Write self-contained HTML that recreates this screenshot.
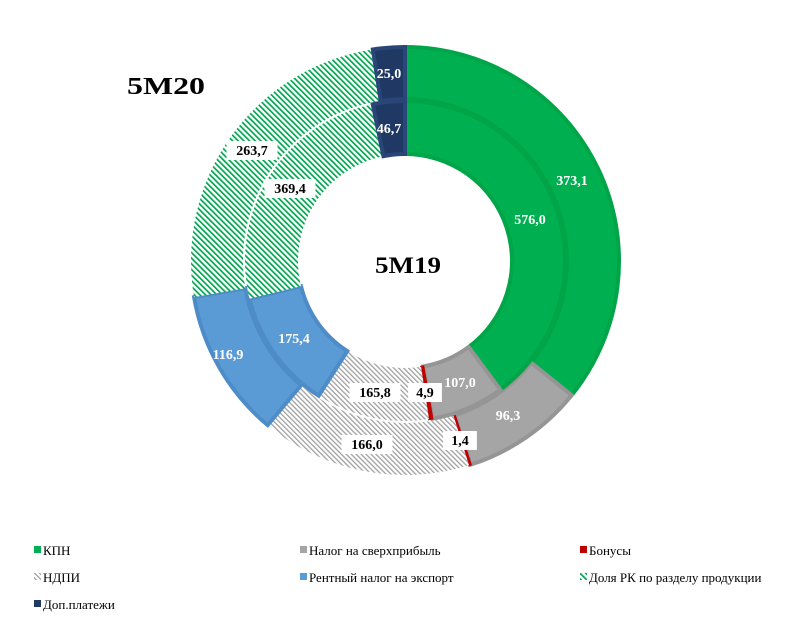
<!DOCTYPE html>
<html><head><meta charset="utf-8"><style>
body{margin:0;background:#fff;width:800px;height:621px;overflow:hidden;font-family:"Liberation Serif",serif}
svg text{font-family:"Liberation Serif",serif}
</style></head><body>
<svg id="s" width="800" height="621" xmlns="http://www.w3.org/2000/svg">
<defs>
<pattern id="gh" patternUnits="userSpaceOnUse" width="4" height="4" patternTransform="rotate(-45)">
<rect width="4" height="4" fill="#fff"/><rect width="1.7" height="4" fill="#00a650"/></pattern>
<pattern id="gr" patternUnits="userSpaceOnUse" width="3.5" height="3.5" patternTransform="rotate(-45)">
<rect width="4" height="4" fill="#fff"/><rect width="1.3" height="4" fill="#a0a0a0"/></pattern>
</defs>
<g id="rings"></g>
<text x="127" y="94" font-size="24" font-weight="bold" textLength="78" lengthAdjust="spacingAndGlyphs">5M20</text>
<text x="375" y="273" font-size="23" font-weight="bold" textLength="66" lengthAdjust="spacingAndGlyphs">5M19</text>
<g id="labels" font-size="14" font-weight="bold" text-anchor="middle"></g>
<g font-size="13">
<rect x="34" y="546" width="7" height="7" fill="#00b050"/><text x="43" y="555">КПН</text>
<rect x="300" y="546" width="7" height="7" fill="#a5a5a5"/><text x="309" y="555">Налог на сверхприбыль</text>
<rect x="580" y="546" width="7" height="7" fill="#c00000"/><text x="589" y="555">Бонусы</text>
<rect x="34" y="573" width="7" height="7" fill="url(#gr)"/><text x="43" y="582">НДПИ</text>
<rect x="300" y="573" width="7" height="7" fill="#5b9bd5"/><text x="309" y="582">Рентный  налог на экспорт</text>
<rect x="580" y="573" width="7" height="7" fill="url(#gh)"/><text x="589" y="582">Доля РК по разделу продукции</text>
<rect x="34" y="600" width="7" height="7" fill="#203864"/><text x="43" y="609">Доп.платежи</text>
</g>
</svg>
<script>
var cx=405,cy=261;
var cols=[["#00b050","#00a548"],["#a5a5a5","#959595"],["#c00000","#c00000"],["url(#gr)","none"],["#5b9bd5","#4e8cc8"],["url(#gh)","none"],["#203864","#2a4678"]];
function arc(r0,r1,a0,a1){
 function p(r,a){a=(a-90)*Math.PI/180;return [cx+r*Math.cos(a),cy+r*Math.sin(a)];}
 var l=(a1-a0)>180?1:0,A=p(r1,a0),B=p(r1,a1),C=p(r0,a1),D=p(r0,a0);
 return "M"+A+"A"+r1+","+r1+" 0 "+l+" 1 "+B+"L"+C+"A"+r0+","+r0+" 0 "+l+" 0 "+D+"Z";
}
var g=document.getElementById("rings"),h="";
function ring(v,r0,r1){var s=v.reduce(function(a,b){return a+b}),a=0;
 v.forEach(function(x,i){var b=a+x/s*360;
 h+='<path d="'+arc(r0,r1,a,b)+'" fill="'+cols[i][0]+'" stroke="'+cols[i][1]+'" stroke-width="'+(i==2?2:4)+'"/>';a=b;});}
ring([373.1,96.3,1.4,166.0,116.9,263.7,25.0],162,214);
ring([576.0,107.0,4.9,165.8,175.4,369.4,46.7],107,160);
g.innerHTML=h;
var L=[["373,1",572,185,0],["96,3",508,420,0],["1,4",460,445,1],["166,0",367,449,1],["116,9",228,359,0],["263,7",252,155,1],["25,0",389,78,0],
["576,0",530,224,0],["107,0",460,387,0],["4,9",425,397,1],["165,8",375,397,1],["175,4",294,343,0],["369,4",290,193,1],["46,7",389,133,0]];
var lh="";
L.forEach(function(l){ if(l[3]) lh+='<rect x="'+(l[1]-l[0].length*4.3-4)+'" y="'+(l[2]-14)+'" width="'+(l[0].length*8.6+8)+'" height="19" fill="#fff"/>';
 lh+='<text x="'+l[1]+'" y="'+l[2]+'" fill="'+(l[3]?'#000':'#fff')+'">'+l[0]+'</text>';});
document.getElementById("labels").innerHTML=lh;
</script>
</body></html>
